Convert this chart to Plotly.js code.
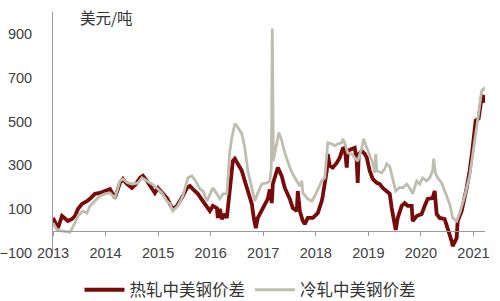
<!DOCTYPE html>
<html>
<head>
<meta charset="utf-8">
<script src="https://cdn.plot.ly/plotly-3.0.1.min.js"></script>
<style>
html,body{margin:0;padding:0;background:#fff;}
#chart{width:500px;height:301px;}
</style>
</head>
<body>
<div id="chart"></div>
<script>
// 热轧中美钢价差 (decimal year, USD/ton)
var hotYears = [2013.000,2013.038,2013.095,2013.171,2013.228,2013.285,2013.361,2013.418,2013.475,2013.551,2013.646,2013.703,2013.798,2013.894,2013.989,2014.084,2014.179,2014.274,2014.331,2014.407,2014.502,2014.578,2014.654,2014.711,2014.787,2014.882,2014.939,2014.996,2015.091,2015.167,2015.224,2015.281,2015.357,2015.414,2015.471,2015.548,2015.605,2015.662,2015.757,2015.852,2015.947,2015.985,2016.042,2016.118,2016.137,2016.175,2016.213,2016.270,2016.308,2016.327,2016.384,2016.422,2016.460,2016.517,2016.593,2016.650,2016.707,2016.783,2016.821,2016.859,2016.897,2016.973,2017.030,2017.087,2017.125,2017.163,2017.183,2017.221,2017.278,2017.354,2017.411,2017.506,2017.563,2017.639,2017.658,2017.696,2017.753,2017.791,2017.848,2017.943,2018.038,2018.114,2018.133,2018.209,2018.228,2018.266,2018.323,2018.399,2018.456,2018.513,2018.551,2018.589,2018.608,2018.684,2018.741,2018.779,2018.798,2018.817,2018.875,2018.932,2018.970,2019.027,2019.084,2019.160,2019.217,2019.274,2019.350,2019.407,2019.445,2019.483,2019.521,2019.559,2019.635,2019.692,2019.749,2019.825,2019.844,2019.920,2020.015,2020.072,2020.129,2020.224,2020.262,2020.300,2020.357,2020.452,2020.510,2020.586,2020.605,2020.681,2020.700,2020.776,2020.871,2020.928,2020.985,2021.042,2021.099,2021.156,2021.194,2021.213];
var hotValues = [60,37,14,69,60,46,55,69,101,124,137,147,170,174,183,192,151,220,238,215,197,215,243,252,229,197,174,197,170,151,124,101,115,137,160,197,206,192,170,137,105,92,115,105,60,101,55,78,60,105,243,320,330,307,275,229,183,124,60,14,60,92,115,147,190,128,215,243,290,250,197,147,105,92,183,92,46,32,60,60,82,137,160,275,352,298,290,311,335,375,380,290,366,375,380,320,220,352,366,352,335,275,238,220,215,197,183,170,105,46,5,60,115,128,115,115,46,69,78,115,147,151,183,78,60,55,14,-46,-69,-32,46,92,197,275,380,504,513,610,618,586];

// 冷轧中美钢价差
var coldYears = [2013.000,2013.076,2013.190,2013.323,2013.418,2013.475,2013.570,2013.646,2013.703,2013.798,2013.894,2013.989,2014.084,2014.179,2014.274,2014.331,2014.426,2014.521,2014.616,2014.692,2014.787,2014.882,2014.977,2015.072,2015.167,2015.224,2015.281,2015.376,2015.471,2015.567,2015.643,2015.738,2015.795,2015.852,2015.928,2015.985,2016.042,2016.118,2016.175,2016.232,2016.308,2016.365,2016.403,2016.460,2016.498,2016.593,2016.650,2016.707,2016.783,2016.840,2016.897,2016.973,2017.068,2017.125,2017.154,2017.173,2017.192,2017.259,2017.297,2017.354,2017.411,2017.506,2017.563,2017.639,2017.696,2017.734,2017.753,2017.848,2017.924,2017.981,2018.038,2018.114,2018.171,2018.228,2018.304,2018.361,2018.418,2018.494,2018.513,2018.551,2018.608,2018.684,2018.741,2018.798,2018.875,2018.913,2018.970,2019.027,2019.084,2019.122,2019.141,2019.160,2019.255,2019.312,2019.350,2019.407,2019.464,2019.521,2019.597,2019.654,2019.730,2019.787,2019.844,2019.920,2019.977,2020.034,2020.110,2020.167,2020.224,2020.243,2020.281,2020.319,2020.395,2020.452,2020.548,2020.605,2020.681,2020.738,2020.833,2020.928,2021.023,2021.080,2021.156,2021.194,2021.213];
var coldValues = [37,5,0,-5,37,69,92,82,115,137,160,170,174,151,229,238,220,215,220,243,229,215,197,174,137,124,92,115,160,243,252,220,192,183,137,170,197,170,147,170,170,366,426,490,481,444,380,275,197,137,174,215,220,229,290,925,320,412,450,412,357,290,260,229,206,229,174,147,137,160,192,229,243,403,398,389,398,403,421,403,357,352,335,320,380,421,380,343,311,266,352,275,266,284,307,295,238,183,200,197,215,197,170,229,215,243,229,243,275,330,261,243,220,183,124,60,46,82,160,252,426,504,641,650,640];

var yearTicks = [2013,2014,2015,2016,2017,2018,2019,2020,2021];
var valueTicks = [-100,100,300,500,700,900];
var seriesNames = ['热轧中美钢价差','冷轧中美钢价差'];
var unitLabel = '美元/吨';

var axisColor = '#9a9a9a';
var textColor = '#404040';
var xRange = [2013, 2021.22];

var traces = [
  {x: hotYears, y: hotValues, name: seriesNames[0], type: 'scatter', mode: 'lines',
   line: {color: '#780a0a', width: 3.8}, hoverinfo: 'skip'},
  {x: coldYears, y: coldValues, name: seriesNames[1], type: 'scatter', mode: 'lines',
   line: {color: '#bebeb0', width: 2.8}, hoverinfo: 'skip'},
  {x: [yearTicks[0]], y: [null], xaxis: 'x2', showlegend: false, hoverinfo: 'skip', mode: 'lines'}
];

var layout = {
  width: 500, height: 301,
  margin: {l: 53, r: 15, t: 12, b: 48},
  paper_bgcolor: '#ffffff', plot_bgcolor: '#ffffff',
  font: {family: 'Liberation Sans, Arial, sans-serif', size: 14, color: textColor},
  showlegend: true,
  legend: {orientation: 'h', x: 0.5, xanchor: 'center', xref: 'container',
           y: 11/301, yanchor: 'middle', yref: 'container',
           font: {family: 'Noto Sans CJK SC, sans-serif', size: 16.5, color: '#333333'},
           itemwidth: 40, tracegroupgap: 0},
  xaxis: {range: xRange, tickvals: yearTicks, ticktext: yearTicks.map(String),
          showline: false, ticks: '', showgrid: false, zeroline: false, automargin: false,
          tickfont: {size: 14.5, color: textColor}, ticklabelstandoff: -11},
  xaxis2: {range: xRange, overlaying: 'x', anchor: 'free', position: 100/1100,
           tickvals: yearTicks, showticklabels: false, showline: true, linecolor: axisColor,
           linewidth: 1, ticks: 'outside', ticklen: 4, tickcolor: axisColor, showgrid: false,
           zeroline: false},
  yaxis: {range: [-100, 1000], tickvals: valueTicks, showline: true, linecolor: axisColor,
          linewidth: 1, ticks: '', showgrid: false, zeroline: false, automargin: false,
          tickfont: {size: 14.5, color: textColor}, ticklabelstandoff: 17},
  annotations: [
    {text: unitLabel, xref: 'paper', yref: 'paper', x: 0.058, y: 0.979, xanchor: 'left', yanchor: 'middle',
     showarrow: false, font: {family: 'Noto Sans CJK SC, sans-serif', size: 15.5, color: '#333333'}}
  ]
};

Plotly.newPlot('chart', traces, layout, {staticPlot: true, displayModeBar: false});
</script>
</body>
</html>
